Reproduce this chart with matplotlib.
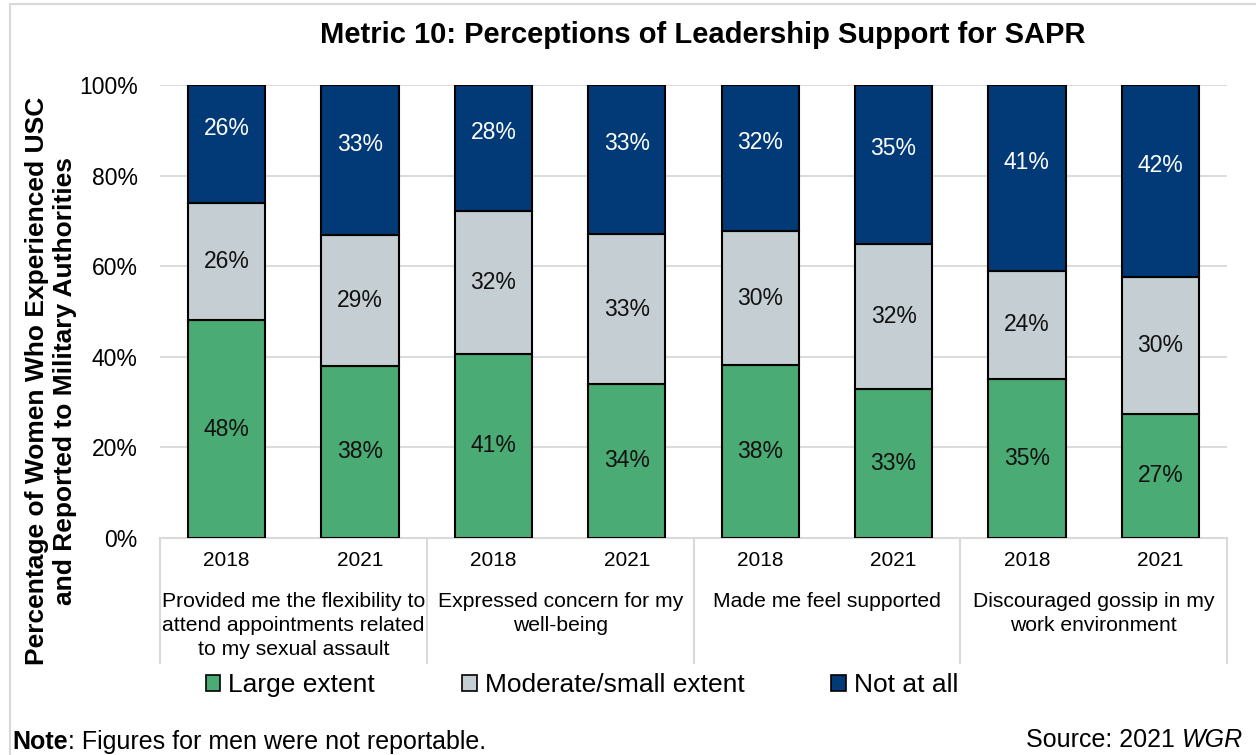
import numpy as np
import matplotlib
matplotlib.use("Agg")
import matplotlib.pyplot as plt
from matplotlib.patches import Patch, Rectangle
import matplotlib.transforms as mtransforms

plt.rcParams['font.family'] = ['Liberation Sans', 'DejaVu Sans']

# data
years = ["2018", "2021"] * 4
groups = ["Provided me the flexibility to\nattend appointments related\nto my sexual assault",
          "Expressed concern for my\nwell-being",
          "Made me feel supported",
          "Discouraged gossip in my\nwork environment"]
large = [48.1, 38.0, 40.7, 34.1, 38.1, 33.0, 35.1, 27.4]
moderate = [25.9, 28.9, 31.5, 32.9, 29.7, 32.0, 23.9, 30.2]
notatall = [26.0, 33.1, 27.8, 33.0, 32.2, 35.0, 41.0, 42.4]
series = ["Large extent", "Moderate/small extent", "Not at all"]
colors = ["#4BAB74", "#C5CFD3", "#013A77"]
txtcol = ["#111111", "#111111", "white"]

fig = plt.figure(figsize=(12.56, 7.55), dpi=100)
ax = fig.add_axes([160/1256, 1-538/755, (1227-160)/1256, 453/755])

x = np.arange(len(years))
bottom = np.zeros(len(years))
for vals, lab, c, tc in zip([large, moderate, notatall], series, colors, txtcol):
    vals = np.array(vals)
    ax.bar(x, vals, 0.58, bottom=bottom, color=c, edgecolor="black", linewidth=1.5,
           label=lab, zorder=3)
    for xi, b, v in zip(x, bottom, vals):
        yc = b + v / 2
        if lab == "Not at all":
            yc += 3.5
        ax.text(xi, yc, f"{v:.0f}%", ha="center", va="center", fontsize=16.5, color=tc, zorder=4)
    bottom = bottom + vals

ax.set_xlim(-0.5, 7.5)
ax.set_ylim(0, 100)
ax.set_yticks([0, 20, 40, 60, 80, 100])
ax.set_yticklabels([f"{t}%" for t in [0, 20, 40, 60, 80, 100]], fontsize=16.5)
ax.tick_params(axis="y", length=0, pad=16)
ax.set_xticks([])
ax.grid(axis="y", color="#D9D9D9", linewidth=1.3, zorder=0)
for s in ax.spines.values():
    s.set_visible(False)

# category axis box
trans = mtransforms.blended_transform_factory(ax.transData, ax.transAxes)
ax.plot([-0.5, 7.5], [0, 0], color="#D9D9D9", lw=1.5, transform=trans, clip_on=False, zorder=2)
for xb in [-0.5, 1.5, 3.5, 5.5, 7.5]:
    ax.plot([xb, xb], [0, -125/453], color="#D9D9D9", lw=1.5, transform=trans, clip_on=False)
for xi, yr in zip(x, years):
    ax.text(xi, -22/453, yr, ha="center", va="center", fontsize=15, transform=trans)
for gi, g in enumerate(groups):
    ax.text(2 * gi + 0.5, -54/453, g, ha="center", va="top", fontsize=15.2,
            linespacing=1.32, transform=trans)

fig.text(703/1256, 1-35/755, "Metric 10: Perceptions of Leadership Support for SAPR",
         ha="center", va="center", fontsize=21, fontweight="bold")
fig.text(51/1256, 1-381/755, "Percentage of Women Who Experienced USC\nand Reported to Military Authorities",
         ha="center", va="center", rotation=90, fontsize=19, fontweight="bold",
         multialignment="center", linespacing=1.18)

handles = [Patch(facecolor=c, edgecolor="black", linewidth=1.2) for c in colors]
fig.legend(handles, series, loc="center", bbox_to_anchor=(582/1256, 1-685/755), ncol=3,
           frameon=False, fontsize=19, handlelength=0.55, handleheight=0.55,
           handletextpad=0.3, columnspacing=3.3)

# footer texts
fig.canvas.draw()
r = fig.canvas.get_renderer()
inv = fig.transFigure.inverted()
t1 = fig.text(12/1256, 1-742/755, "Note", ha="left", va="center", fontsize=18, fontweight="bold")
x1 = inv.transform(t1.get_window_extent(r))[1, 0]
fig.text(x1, 1-742/755, ": Figures for men were not reportable.", ha="left", va="center", fontsize=18)
t2 = fig.text(1243/1256, 1-740/755, "WGR", ha="right", va="center", fontsize=18, style="italic")
x2 = inv.transform(t2.get_window_extent(r))[0, 0]
fig.text(x2, 1-740/755, "Source: 2021\u00a0", ha="right", va="center", fontsize=18)

fig.patches.append(Rectangle((10/1256, -0.1), 1.2, 1 - 4/755 + 0.1, transform=fig.transFigure,
                             fill=False, edgecolor="#D9D9D9", lw=1.5))

fig.savefig("out.png", dpi=100)
